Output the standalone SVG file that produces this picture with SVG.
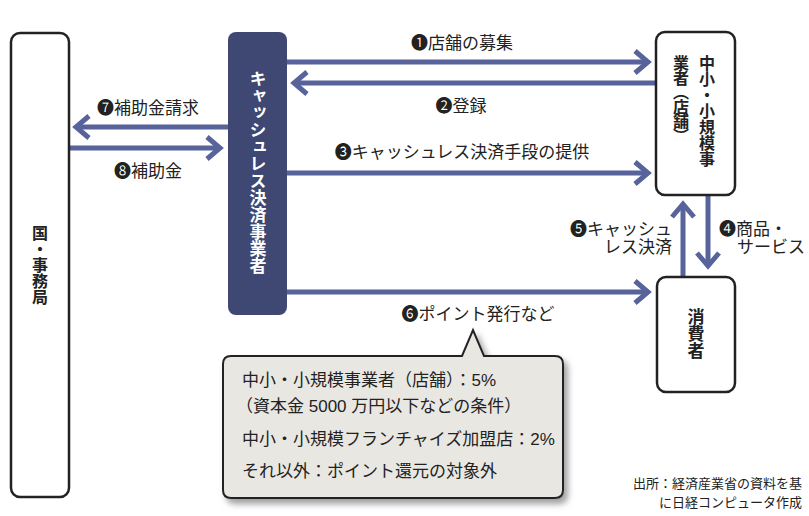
<svg xmlns="http://www.w3.org/2000/svg" width="809" height="516" viewBox="0 0 809 516">
<defs>
<style>
text{font-family:"Liberation Sans","Noto Sans CJK JP",sans-serif;fill:#222;}
.lbl{font-size:17px;}
.box{fill:#fff;stroke:#222;stroke-width:2.5;}
.vt{font-family:"Noto Sans CJK JP",sans-serif;writing-mode:vertical-rl;text-orientation:upright;font-weight:bold;}
.arr{stroke:#57639a;stroke-width:5;fill:none;}
.call{font-size:17px;}
.note{font-size:13px;}
</style>
<marker id="ah" markerUnits="userSpaceOnUse" markerWidth="40" markerHeight="40" viewBox="-20 -20 40 40" refX="0" refY="0" orient="auto">
<path d="M-13,-11 L0,0 L-13,11" fill="none" stroke="#57639a" stroke-width="5"/>
</marker>
<filter id="sh" x="-10%" y="-10%" width="130%" height="140%">
<feDropShadow dx="4" dy="5" stdDeviation="3" flood-color="#777" flood-opacity="0.7"/>
</filter>
</defs>
<rect width="809" height="516" fill="#fff"/>

<g id="connectors">
<line class="arr" x1="287" y1="62" x2="648" y2="62" marker-end="url(#ah)"/>
<line class="arr" x1="656" y1="83" x2="294" y2="83" marker-end="url(#ah)"/>
<line class="arr" x1="287" y1="173" x2="648" y2="173" marker-end="url(#ah)"/>
<line class="arr" x1="287" y1="292" x2="648" y2="292" marker-end="url(#ah)"/>
<line class="arr" x1="228" y1="127" x2="76" y2="127" marker-end="url(#ah)"/>
<line class="arr" x1="69" y1="148" x2="220" y2="148" marker-end="url(#ah)"/>
<line class="arr" x1="683" y1="277" x2="683" y2="204" marker-end="url(#ah)"/>
<line class="arr" x1="708" y1="195" x2="708" y2="266" marker-end="url(#ah)"/>
<text class="lbl" x="462" y="49" text-anchor="middle">❶店舗の募集</text>
<text class="lbl" x="461" y="112" text-anchor="middle">❷登録</text>
<text class="lbl" x="462" y="158" text-anchor="middle">❸キャッシュレス決済手段の提供</text>
<text class="lbl" x="148" y="114" text-anchor="middle">❼補助金請求</text>
<text class="lbl" x="148" y="177" text-anchor="middle">❽補助金</text>
<text class="lbl" x="478" y="320" text-anchor="middle">❻ポイント発行など</text>
<text class="lbl" x="672" y="235" text-anchor="end">❺キャッシュ</text>
<text class="lbl" x="672" y="253" text-anchor="end">レス決済</text>
<text class="lbl" x="719" y="235">❹商品・</text>
<text class="lbl" x="737" y="253">サービス</text>
</g>

<g id="kuni">
<rect class="box" x="11" y="33" width="58" height="464" rx="9"/>
<text class="vt" x="40" y="225" font-size="16">国・事務局</text>
</g>

<g id="cashless">
<rect x="228" y="32" width="59" height="283" rx="8" fill="#3e4873"/>
<text class="vt" x="258" y="70" font-size="17" style="fill:#fff">キャッシュレス決済事業者</text>
</g>

<g id="shop">
<rect class="box" x="656" y="32" width="79" height="163" rx="9"/>
<text class="vt" x="707" y="55" font-size="16">中小・小規模事</text>
<text class="vt" x="681" y="55" font-size="16" letter-spacing="-1.5">業者（店舗）</text>
</g>

<g id="consumer">
<rect class="box" x="657" y="277" width="78" height="115" rx="9"/>
<text class="vt" x="696" y="308" font-size="17">消費者</text>
</g>

<g id="callout">
<path d="M231,356 L462,356 L473,330 L484,356 L555,356 Q563,356 563,364 L563,490 Q563,498 555,498 L231,498 Q223,498 223,490 L223,364 Q223,356 231,356 Z" fill="#e9e7e2" stroke="#222" stroke-width="2" filter="url(#sh)"/>
<text class="call" x="242" y="386">中小・小規模事業者（店舗）：5%</text>
<text class="call" x="236" y="412">（資本金 5000 万円以下などの条件）</text>
<text class="call" x="242" y="445">中小・小規模フランチャイズ加盟店：2%</text>
<text class="call" x="242" y="477">それ以外：ポイント還元の対象外</text>
</g>

<g id="note">
<text class="note" x="802" y="488" text-anchor="end">出所：経済産業省の資料を基</text>
<text class="note" x="802" y="507" text-anchor="end">に日経コンピュータ作成</text>
</g>
</svg>
